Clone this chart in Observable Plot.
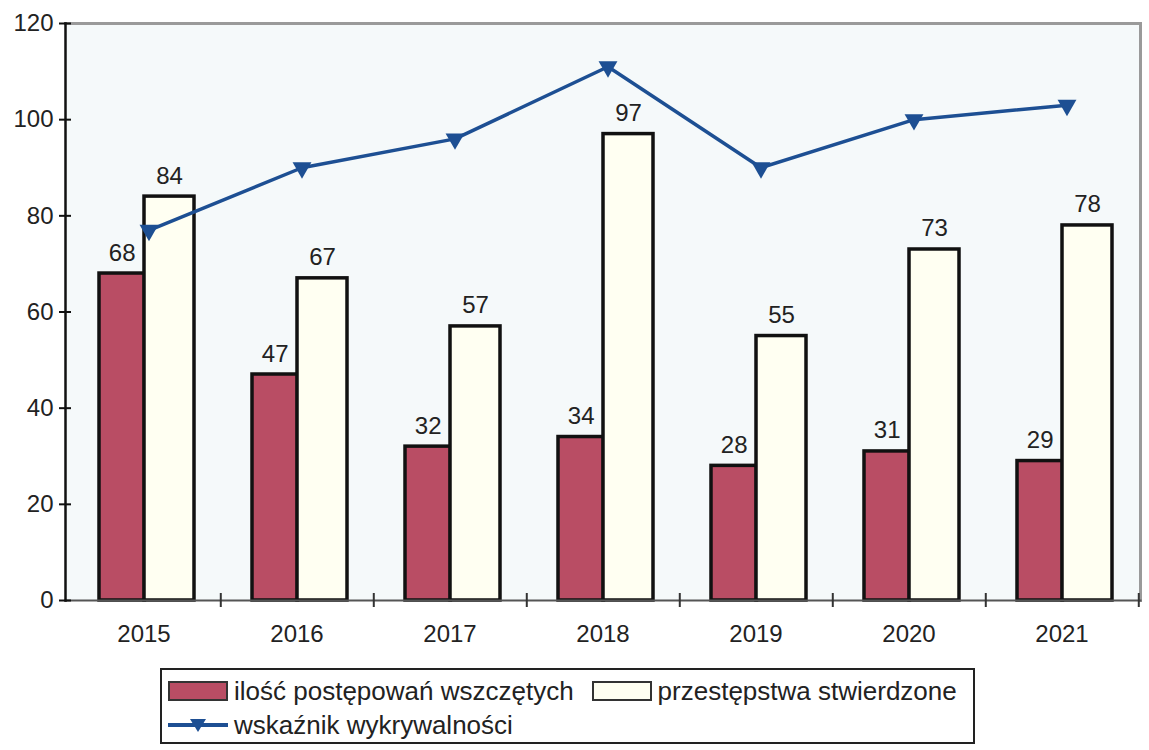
<!DOCTYPE html>
<html>
<head>
<meta charset="utf-8">
<script src="https://cdn.jsdelivr.net/npm/d3@7"></script>
<script src="https://cdn.jsdelivr.net/npm/@observablehq/plot@0.6"></script>
<style>
  html, body { margin: 0; padding: 0; background: #fff; }
  body { width: 1149px; height: 750px; overflow: hidden; font-family: "Liberation Sans", Arial, sans-serif; }
  #chart { display: block; }
  #legend {
    position: absolute; left: 160px; top: 668px; width: 815px; height: 76px;
    border: 2px solid #222; box-sizing: border-box; background: #fff;
    font-size: 26px; color: #222; padding: 4px 0 0 6px;
  }
  .row { display: flex; align-items: center; height: 34px; white-space: nowrap; }
  .sw { display: inline-block; width: 60px; height: 20px; box-sizing: border-box; border: 2px solid #333; margin-right: 6px; }
  .gap { width: 18px; display: inline-block; }
  svg.ln { margin-right: 6px; }
</style>
</head>
<body>
<div id="chart"></div>
<div id="legend"></div>
<script>
const years = ["2015", "2016", "2017", "2018", "2019", "2020", "2021"];
const started = [68, 47, 32, 34, 28, 31, 29];      // ilość postępowań wszczętych
const confirmed = [84, 67, 57, 97, 55, 73, 78];    // przestępstwa stwierdzone
const detection = [77, 90, 96, 111, 90, 100, 103]; // wskaźnik wykrywalności
const yTicks = [0, 20, 40, 60, 80, 100, 120];
const seriesNames = ["ilość postępowań wszczętych", "przestępstwa stwierdzone", "wskaźnik wykrywalności"];

const colRed = "#b94d64";
const colCream = "#fffff2";
const colBlue = "#1d4f93";

const rows = years.map((y, i) => ({year: y, started: started[i], confirmed: confirmed[i], detection: detection[i]}));

const W = 1149, ML = 65, MR = 9;
const bw = (W - ML - MR) / years.length;
const redL = 32, redR = bw - 32 - 46;
const creamL = 77, creamR = 26;
const redC = redL + (bw - redL - redR) / 2 - bw / 2;
const creamC = creamL + (bw - creamL - creamR) / 2 - bw / 2;

const chart = Plot.plot({
  width: W, height: 655,
  marginLeft: ML, marginRight: MR, marginTop: 23, marginBottom: 55,
  style: {fontFamily: "'Liberation Sans', Arial, sans-serif", fontSize: "24px", color: "#222", background: "transparent"},
  x: {domain: years, padding: 0, label: null},
  y: {domain: [0, 120], label: null},
  marks: [
    Plot.frame({fill: "#f5f9fa", stroke: null}),
    Plot.frame({anchor: "top", stroke: "#9a9a9a", strokeWidth: 3}),
    Plot.frame({anchor: "right", stroke: "#9a9a9a", strokeWidth: 3}),
    Plot.barY(rows, {x: "year", y: "started", fill: colRed, stroke: "#111", strokeWidth: 3.5, insetLeft: redL, insetRight: redR}),
    Plot.barY(rows, {x: "year", y: "confirmed", fill: colCream, stroke: "#111", strokeWidth: 3.5, insetLeft: creamL, insetRight: creamR}),
    Plot.text(rows, {x: "year", y: "started", text: d => String(d.started), dx: redC, dy: -13, lineAnchor: "bottom", fontSize: 24, fill: "#222"}),
    Plot.text(rows, {x: "year", y: "confirmed", text: d => String(d.confirmed), dx: creamC, dy: -13, lineAnchor: "bottom", fontSize: 24, fill: "#222"}),
    Plot.frame({anchor: "bottom", stroke: "#555", strokeWidth: 2}),
    Plot.frame({anchor: "left", stroke: "#111", strokeWidth: 2.5}),
    Plot.axisY({ticks: yTicks, tickSize: 12, dx: 6, tickPadding: 6, tickFormat: d => String(d), stroke: "#111", strokeWidth: 2}),
    Plot.axisX({tickSize: 14, dy: -7, dx: bw / 2, tickFormat: () => "", stroke: "#333", strokeWidth: 2}),
    Plot.axisX({tickSize: 0, tickPadding: 24, fontSize: 24}),
    Plot.line(rows, {x: "year", y: "detection", stroke: colBlue, strokeWidth: 3.5, dx: 5}),
    Plot.dot(rows, {x: "year", y: "detection", symbol: "triangle", rotate: 180, r: 7, fill: colBlue, stroke: null, dx: 5})
  ]
});
document.getElementById("chart").appendChild(chart);

const legend = document.getElementById("legend");
legend.innerHTML = `
  <div class="row"><span class="sw" style="background:${colRed}"></span>${seriesNames[0]}<span class="gap"></span><span class="sw" style="background:${colCream}"></span>${seriesNames[1]}</div>
  <div class="row"><svg class="ln" width="60" height="20"><line x1="0" y1="10" x2="60" y2="10" stroke="${colBlue}" stroke-width="4"/><path d="M22,4 L38,4 L30,17 Z" fill="${colBlue}"/></svg>${seriesNames[2]}</div>`;
</script>
</body>
</html>
